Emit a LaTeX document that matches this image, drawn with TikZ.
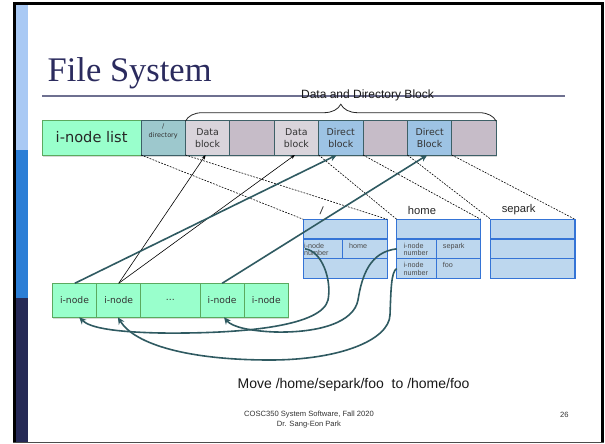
\documentclass[tikz,border=0pt]{standalone}
\usepackage{fontspec}
\setmainfont{Liberation Sans}
\newfontfamily\titlefont{Liberation Serif}
\newfontfamily\boxfont{DejaVu Sans}
\usetikzlibrary{arrows.meta,decorations.pathreplacing,shadows}

\definecolor{barlight}{HTML}{A9C9F4}
\definecolor{barmid}{HTML}{2B7ED6}
\definecolor{barnavy}{HTML}{262A56}
\definecolor{titlenavy}{HTML}{2B2B5E}
\definecolor{rulegrey}{HTML}{6E7090}
\definecolor{inodefill}{HTML}{99FFCC}
\definecolor{inodeedge}{HTML}{5BAA5F}
\definecolor{dirfill}{HTML}{9DC8CD}
\definecolor{slateedge}{HTML}{3D6067}
\definecolor{datafill}{HTML}{D9D4DB}
\definecolor{emptyfill}{HTML}{C6BCC8}
\definecolor{directfill}{HTML}{9DC3E4}
\definecolor{tablefill}{HTML}{BDD7EE}
\definecolor{tableedge}{HTML}{3574D6}
\definecolor{linkteal}{HTML}{2F5A61}
\definecolor{inktext}{HTML}{333333}

\begin{document}
\begin{tikzpicture}[x=1pt,y=-1pt,
  boxshadow/.style={drop shadow={shadow xshift=0.8pt,shadow yshift=-1.6pt,opacity=0.3}},
  blk/.style={draw=slateedge,line width=0.9pt,minimum width=44.4pt,minimum height=34.3pt,
    inner sep=0pt,outer sep=0pt,anchor=north west,align=center,text=inktext,
    font=\boxfont\fontsize{9.4}{11.7}\selectfont,boxshadow},
  inode/.style={draw=inodeedge,fill=inodefill,line width=0.9pt,minimum height=34pt,
    inner sep=0pt,outer sep=0pt,anchor=north west,text=inktext,
    font=\boxfont\fontsize{9.2}{11}\selectfont,boxshadow},
  cell/.style={draw=tableedge,fill=tablefill,line width=1.1pt,minimum height=19.67pt,
    inner sep=0pt,outer sep=0pt,anchor=north west},
  celltext/.style={anchor=north west,inner sep=0pt,align=left,text=black!70,
    font=\fontsize{7.2}{7.4}\selectfont},
  tabletitle/.style={inner sep=0pt,text=black!85,font=\fontsize{11.2}{13}\selectfont},
  dashline/.style={draw=black,line width=0.6pt,dash pattern=on 1.8pt off 1.3pt},
  thinarrow/.style={draw=black,line width=0.6pt,-{Stealth[length=4.5pt,width=3.6pt]}},
  thickarrow/.style={draw=linkteal,line width=1.6pt,-{Stealth[length=7pt,width=6.5pt]}}]

% page and slide frame
\useasboundingbox (0,0) rectangle (605,444);
\fill[white] (0,0) rectangle (605,444);
\fill[barlight] (15.8,5) rectangle (28,150);
\fill[barmid] (15.8,150) rectangle (28,298);
\fill[barnavy] (15.8,298) rectangle (28,442.5);
\fill[black] (13.2,2.4) rectangle (15.8,443);
\fill[black] (13.2,2.4) rectangle (604,5);
\fill[black] (601.4,2.4) rectangle (604,443);
\draw[black!70,line width=1pt] (13.2,442.8) -- (604,442.8);

% title and rule
\node[anchor=base west,inner sep=0pt,text=titlenavy,font=\titlefont\fontsize{34.5}{40}\selectfont]
  (title) at (47.5,81.7) {File System};
\draw[rulegrey,line width=1.8pt] (42.3,96) -- (564.5,96);
\node[inner sep=0pt,text=black!90,font=\fontsize{12}{14}\selectfont] (ddb) at (367.5,95.3)
  {Data and Directory Block};

% block row
\node[blk,fill=inodefill,draw=inodeedge,minimum width=98.7pt,font=\boxfont\fontsize{14.6}{16}\selectfont,text=black!85]
  (ilist) at (42.3,120.7) {\raisebox{1.5pt}{i-node list}};
\node[blk,fill=dirfill] (dir) at (141,120.7) {};
\node[inner sep=0pt,align=center,text=inktext,font=\boxfont\fontsize{6.5}{8.7}\selectfont]
  (dirlabel) at (dir.center) [yshift=6.3pt] {/\\directory};
\node[blk,fill=datafill] (db1) at (185.4,120.7) {Data\\block};
\node[blk,fill=emptyfill] (e1) at (229.8,120.7) {};
\node[blk,fill=datafill] (db2) at (274.2,120.7) {Data\\block};
\node[blk,fill=directfill] (dr1) at (318.6,120.7) {Direct\\block};
\node[blk,fill=emptyfill] (e2) at (363,120.7) {};
\node[blk,fill=directfill] (dr2) at (407.4,120.7) {Direct\\Block};
\node[blk,fill=emptyfill] (e3) at (451.8,120.7) {};

% brace over data and directory blocks
\draw[black!85,line width=0.8pt,decorate,decoration={brace,amplitude=17pt,aspect=0.5}]
  ([yshift=-0.5pt]db1.north west) -- ([yshift=-0.5pt]e3.north east);

% directory tables
\node[tabletitle,rotate=-8] (slash) at (321.7,211.2) {/};
\node[tabletitle] (homet) at (422,210) {home};
\node[tabletitle] (separkt) at (518.7,210) {separk};

\node[cell,minimum width=84pt] (t1a) at (303.3,219.3) {};
\node[cell,minimum width=39.4pt] (t1b) at (303.3,239) {};
\node[cell,minimum width=44.6pt] (t1c) at (342.7,239) {};
\node[cell,minimum width=84pt] (t1d) at (303.3,258.7) {};

\node[cell,minimum width=84pt] (t2a) at (396.7,219.3) {};
\node[cell,minimum width=40pt] (t2b) at (396.7,239) {};
\node[cell,minimum width=44pt] (t2c) at (436.7,239) {};
\node[cell,minimum width=40pt] (t2d) at (396.7,258.7) {};
\node[cell,minimum width=44pt] (t2e) at (436.7,258.7) {};

\node[cell,minimum width=84.3pt] (t3a) at (490.7,219.3) {};
\node[cell,minimum width=84.3pt] (t3b) at (490.7,239) {};
\node[cell,minimum width=84.3pt] (t3c) at (490.7,258.7) {};

\node[celltext] (n1) at (304,242.8) {i-node\\number};
\node[celltext] (h1) at (349,242.8) {home};
\node[celltext] (n2) at (403.3,242.8) {i-node\\number};
\node[celltext] (s2) at (442.7,242.8) {separk};
\node[celltext] (n3) at (403.3,262.2) {i-node\\number};
\node[celltext] (f3) at (442.7,262.2) {foo};

% i-node row
\node[inode,minimum width=44.4pt] (ni1) at (52.3,283.3) {i-node};
\node[inode,minimum width=44pt] (ni2) at (96.7,283.3) {i-node};
\node[inode,minimum width=59.3pt] (ndots) at (140.7,283.3) {...};
\node[inode,minimum width=44.3pt] (ni4) at (200,283.3) {i-node};
\node[inode,minimum width=44pt] (ni5) at (244.3,283.3) {i-node};

% blocks mapped to directory contents
\draw[dashline] (dir.south west) -- (t1a.north west);
\draw[dashline] (dir.south east) -- (t1a.north east);
\draw[dashline] (dr1.south west) -- (t2a.north west);
\draw[dashline] (dr1.south east) -- (t2a.north east);
\draw[dashline] (dr2.south west) -- (t3a.north west);
\draw[dashline] (dr2.south east) -- (t3a.north east);

% i-nodes pointing at their blocks
\draw[thinarrow] (ni2.north) -- ([xshift=-2pt]db1.south);
\draw[thinarrow] (ni2.north) -- ([xshift=-1.5pt]db2.south);
\draw[thickarrow] ([xshift=0.3pt]ni1.north) -- ([xshift=-4pt]dr1.south);
\draw[thickarrow] (ni4.north) -- ([xshift=-2.3pt]dr2.south);

% directory entries pointing back at i-nodes
\draw[thickarrow] ([xshift=1.7pt]t1b.west)
  .. controls (322,251) and (332,280) .. (328,300)
  .. controls (322,325) and (250,334) .. (160,333)
  .. controls (115,332) and (90,328) .. ([xshift=4.7pt]ni1.south);
\draw[thickarrow] (t2b.west)
  .. controls (370,252) and (362,275) .. (358,300)
  .. controls (354,322) and (320,333) .. (275,332)
  .. controls (250,331) and (232,327) .. ([xshift=1.9pt]ni4.south);
\draw[thickarrow] (t2d.west)
  .. controls (391,272) and (391,290) .. (390,315)
  .. controls (389,340) and (340,360) .. (270,360)
  .. controls (190,360) and (135,345) .. ([xshift=-0.8pt]ni2.south);

% caption and footer
\node[inner sep=0pt,text=black!90,font=\fontsize{14}{16}\selectfont] (move) at (353.6,385)
  {Move /home/separk/foo\ \ to /home/foo};
\node[inner sep=0pt,align=center,text=inktext,font=\fontsize{7.6}{10.4}\selectfont] (footer)
  at (309,419.8) {COSC350 System Software, Fall 2020\\Dr. Sang-Eon Park};
\node[inner sep=0pt,text=inktext,font=\fontsize{7.6}{9}\selectfont] (pageno) at (564.4,414.6) {26};
\end{tikzpicture}
\end{document}
